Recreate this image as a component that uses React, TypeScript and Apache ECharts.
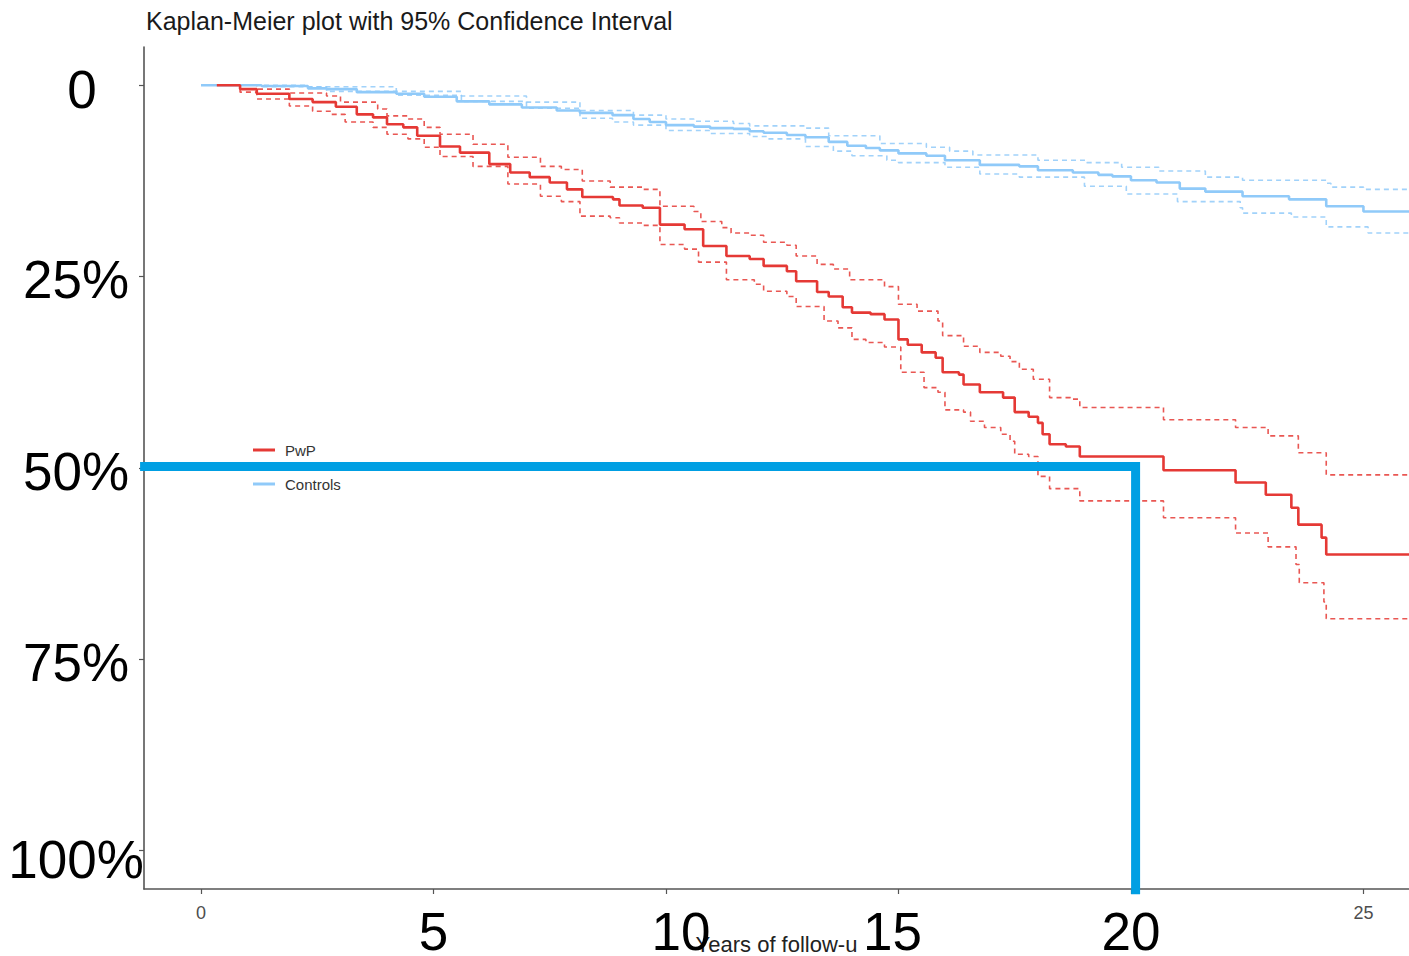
import React, { useEffect, useRef } from "react";
import * as echarts from "echarts";

// ---------- data (years, % cumulative) ----------
const PWP_T = [0.34,0.84,1.2,1.9,2.4,2.9,3.35,3.7,4.0,4.35,4.65,5.14,5.57,6.2,6.65,7.07,7.5,7.87,8.2,8.86,9.0,9.5,9.87,10.4,10.8,11.3,11.8,12.1,12.6,12.8,13.25,13.5,13.8,14.0,14.4,14.7,15.0,15.2,15.5,15.8,15.95,16.3,16.4,16.75,17.25,17.5,17.8,18.0,18.1,18.25,18.6,18.9,20.7,22.25,22.9,23.45,23.6,24.1,24.2,26.0];
const PWP_V = [0,0.5,1.1,1.8,2.2,2.8,3.8,4.2,5.1,5.5,6.6,8.0,8.8,10.3,11.4,12.0,12.7,13.6,14.6,14.9,15.7,16.0,18.2,18.8,21.0,22.3,22.7,23.6,24.3,25.6,27.0,27.6,29.0,29.7,29.9,30.6,33.2,33.9,34.9,35.6,37.5,37.8,39.1,40.1,40.8,42.7,43.3,44.1,45.6,46.9,47.2,48.5,50.3,51.9,53.5,55.2,57.4,59.1,61.3,61.3];

const PWP_UP_T = [0.34,1.2,1.9,2.7,3.0,3.8,4.0,4.45,4.8,5.14,5.85,6.6,7.3,7.75,8.2,8.8,9.5,9.87,10.6,10.75,11.2,11.4,11.8,12.1,12.6,12.8,13.25,13.6,13.95,14.7,15.0,15.4,15.85,15.95,16.4,16.75,17.2,17.4,17.6,17.9,18.25,18.7,18.9,20.7,22.25,22.95,23.6,24.2,26.0];
const PWP_UP_V = [0,0.5,1.0,1.4,2.2,3.1,4.0,4.4,5.5,6.4,7.7,9.4,10.6,11.0,12.5,13.3,13.6,15.8,16.5,17.8,18.6,19.3,19.6,20.5,20.9,22.3,23.4,24.0,25.4,26.3,28.6,29.5,30.8,32.7,34.1,34.9,35.4,36.1,37.1,38.4,40.8,41.0,42.1,43.7,44.7,45.8,48.0,50.9,50.9];

const PWP_LO_T = [0.34,0.84,1.2,1.9,2.4,2.8,3.1,3.7,4.0,4.45,4.8,5.14,5.85,6.6,7.3,7.75,8.15,8.8,9.0,9.5,9.87,10.4,10.7,11.3,11.9,12.1,12.6,12.8,13.4,13.7,14.0,14.3,14.7,15.05,15.55,15.85,16.0,16.4,16.55,16.85,17.2,17.4,17.5,17.8,18.0,18.25,18.9,20.7,22.25,22.95,23.55,23.62,24.15,24.2,26.0];
const PWP_LO_V = [0,0.9,1.8,2.7,3.4,3.8,4.8,5.5,6.4,7.0,8.1,9.3,10.6,12.9,14.5,15.2,17.1,17.3,18.0,18.3,20.8,21.4,23.1,25.4,26.0,26.9,27.6,28.9,30.8,31.7,33.2,33.6,34.2,37.5,39.5,40.1,42.4,42.7,43.9,44.7,45.6,46.5,48.2,48.5,51.1,52.7,54.3,56.5,58.5,60.3,62.6,65.0,67.5,69.7,69.7];

const CTRL_T = [0,1.3,2.3,2.7,3.35,4.2,4.8,5.5,6.2,6.9,7.65,8.15,8.85,9.3,9.65,10.0,10.6,10.95,11.45,11.8,12.1,12.6,13.0,13.5,13.9,14.3,14.6,15.0,15.6,16.0,16.75,17.6,18.0,18.75,19.3,19.6,20.0,20.55,21.05,21.6,22.4,23.4,24.2,25.0,26.0];
const CTRL_V = [0,0.1,0.4,0.5,0.9,1.1,1.5,2.1,2.5,2.9,3.3,3.6,3.9,4.4,4.8,5.2,5.4,5.6,5.7,6.0,6.2,6.5,6.8,7.4,7.9,8.2,8.5,8.9,9.2,9.8,10.4,10.6,11.1,11.4,11.7,11.9,12.4,12.7,13.5,13.9,14.5,14.9,15.8,16.5,16.5];

const CTRL_UP_T = [0,2.3,4.2,5.6,7.0,8.15,9.3,10.0,10.6,11.45,11.8,13.0,13.5,14.6,15.6,16.1,16.6,18.0,19.05,19.8,20.6,21.6,22.4,24.2,24.3,25.0,26.0];
const CTRL_UP_V = [0,0.2,0.8,1.4,2.2,3.3,3.9,4.4,4.7,5.0,5.3,5.6,6.6,7.6,8.1,8.6,9.1,9.8,10.1,10.7,11.2,12.0,12.4,12.8,13.3,13.6,13.6];

const CTRL_LO_T = [0,1.3,2.7,4.2,5.6,7.0,8.15,8.85,9.3,10.0,10.95,11.8,12.2,13.0,13.6,14.0,14.75,15.0,16.0,16.75,17.6,19.0,19.9,21.0,22.35,22.4,23.45,24.2,25.1,26.0];
const CTRL_LO_V = [0,0.2,0.8,1.3,2.1,3.0,4.3,4.8,5.2,5.9,6.3,6.7,7.0,8.0,8.6,9.2,9.8,10.1,10.7,11.6,12.0,13.2,14.2,15.2,16.0,16.7,17.2,18.5,19.3,19.3];

// highlight (median at 20 years, 50%)
const MEDIAN_X = [-1.31, 20.1, 20.1];
const MEDIAN_Y = [49.8, 49.8, 105.7];

const X_TICKS = [0, 5, 10, 15, 20, 25];
const Y_TICKS = [0, 25, 50, 75, 100];

const TITLE = "Kaplan-Meier plot with 95% Confidence Interval";
const X_NAME = "Years of follow-u";

const RED = "#E53935";
const BLUE = "#90CAF9";
const HILITE = "#009FE3";
const FONT = "'Liberation Sans', Arial, sans-serif";

const zip = (a: number[], b: number[]) => a.map((v, i) => [v, b[i]]);

export default function App() {
  const ref = useRef<HTMLDivElement>(null);
  useEffect(() => {
    if (!ref.current) return;
    const chart = echarts.init(ref.current, undefined, { renderer: "svg" });
    const stepLine = (name: string, t: number[], v: number[], color: string, dashed: boolean) => ({
      name,
      type: "line",
      step: "end",
      data: zip(t, v),
      showSymbol: false,
      symbol: "none",
      silent: true,
      lineStyle: {
        color,
        width: dashed ? 1.6 : 2.6,
        type: dashed ? [5, 4] : "solid",
        opacity: dashed ? 0.85 : 1,
      },
      itemStyle: { color },
      z: dashed ? 2 : 3,
    });
    chart.setOption({
      animation: false,
      backgroundColor: "#ffffff",
      title: {
        text: TITLE,
        left: 141,
        top: 3,
        textStyle: { fontFamily: FONT, fontSize: 25, fontWeight: "normal", color: "#1a1a1a" },
      },
      legend: {
        data: ["PwP", "Controls"],
        orient: "vertical",
        left: 253,
        top: 441,
        padding: 0,
        icon: "rect",
        itemWidth: 22,
        itemHeight: 3,
        itemGap: 16,
        textStyle: { fontFamily: FONT, fontSize: 15, color: "#333", lineHeight: 18, padding: [0, 0, 0, 5] },
      },
      grid: { left: 144, right: 0, top: 47, bottom: 67, containLabel: false, outerBoundsMode: "none" },
      xAxis: {
        type: "value",
        min: -1.226,
        max: 25.98,
        name: X_NAME,
        nameLocation: "middle",
        nameGap: 55,
        nameMoveOverlap: false,
        nameTextStyle: { fontFamily: FONT, fontSize: 22, color: "#222", verticalAlign: "middle", lineHeight: 22 },
        splitLine: { show: false },
        axisLine: { show: true, onZero: false, lineStyle: { color: "#555", width: 1.6 } },
        axisTick: { show: true, length: 5, customValues: X_TICKS, lineStyle: { color: "#555", width: 1.2 } },
        axisLabel: {
          customValues: X_TICKS,
          margin: 20,
          formatter: (v: number) => {
            if (v === 0 || v === 25) return `{s|${v}}`;
            if (v === 10) return `{b10|${v}}`;
            if (v === 15) return `{b15|${v}}`;
            return `{b|${v}}`;
          },
          rich: {
            s: { fontFamily: FONT, fontSize: 18, color: "#4d4d4d", lineHeight: 8 },
            b: { fontFamily: FONT, fontSize: 53, color: "#000", lineHeight: 44 },
            b10: { fontFamily: FONT, fontSize: 53, color: "#000", lineHeight: 44, padding: [0, 0, 0, 30] },
            b15: { fontFamily: FONT, fontSize: 53, color: "#000", lineHeight: 44, padding: [0, 12, 0, 0] },
          },
        },
      },
      yAxis: {
        type: "value",
        inverse: true,
        min: -5,
        max: 105,
        splitLine: { show: false },
        axisLine: { show: true, onZero: false, lineStyle: { color: "#555", width: 1.6 } },
        axisTick: { show: true, length: 5, customValues: Y_TICKS, lineStyle: { color: "#555", width: 1.2 } },
        axisLabel: {
          customValues: Y_TICKS,
          margin: 68,
          align: "center",
          verticalAlign: "middle",
          formatter: (v: number) => {
            if (v === 0) return `{z|0}`;
            if (v === 100) return `{h|100%}`;
            return `{p|${v}%}`;
          },
          rich: {
            z: { fontFamily: FONT, fontSize: 53, color: "#000", padding: [8, 0, 0, 12] },
            p: { fontFamily: FONT, fontSize: 53, color: "#000", padding: [6, 0, 0, 0] },
            h: { fontFamily: FONT, fontSize: 53, color: "#000", padding: [18, 0, 0, 0] },
          },
        },
      },
      series: [
        stepLine("PwP upper", PWP_UP_T, PWP_UP_V, RED, true),
        stepLine("PwP lower", PWP_LO_T, PWP_LO_V, RED, true),
        stepLine("Controls upper", CTRL_UP_T, CTRL_UP_V, BLUE, true),
        stepLine("Controls lower", CTRL_LO_T, CTRL_LO_V, BLUE, true),
        stepLine("Controls", CTRL_T, CTRL_V, BLUE, false),
        stepLine("PwP", PWP_T, PWP_V, RED, false),
        {
          name: "median",
          type: "line",
          data: zip(MEDIAN_X, MEDIAN_Y),
          showSymbol: false,
          symbol: "none",
          silent: true,
          clip: false,
          lineStyle: { color: HILITE, width: 9, join: "miter", cap: "butt" },
          z: 5,
        },
      ],
    });
    return () => chart.dispose();
  }, []);
  return (
    <div
      ref={ref}
      style={{ position: "fixed", left: 0, top: 0, width: 1409, height: 956, background: "#fff" }}
    />
  );
}
